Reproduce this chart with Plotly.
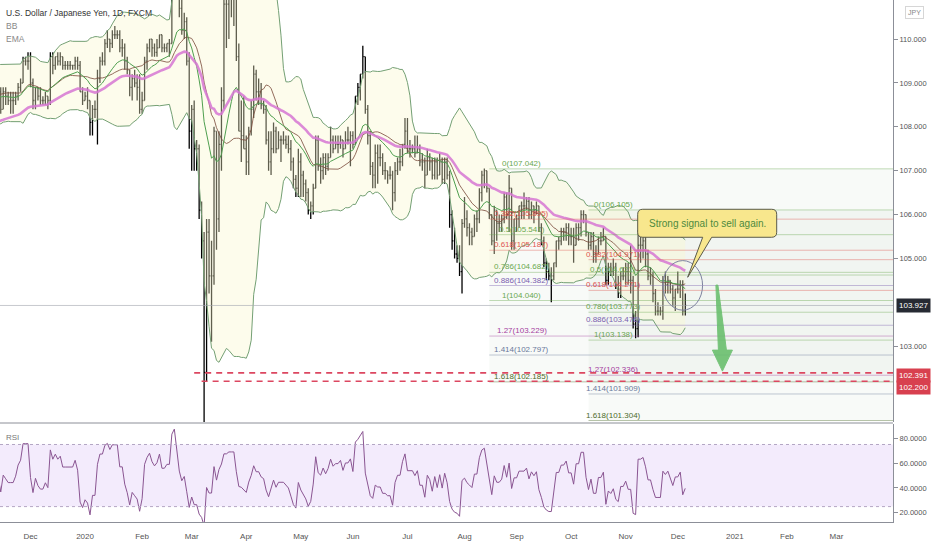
import pandas as pd
import numpy as np
import plotly.graph_objects as go

# ---------------- DATA: daily USD/JPY bars, (high, low, close) ----------------
sep_2019 = [(106.4,106.0,106.2),(106.3,105.7,105.9),(106.5,105.9,106.4),(107.0,106.3,106.9),(107.2,106.8,106.9),
            (107.3,106.8,107.2),(107.6,107.1,107.5),(107.9,107.4,107.8),(108.3,107.5,108.1),(108.2,107.9,108.1),
            (108.2,107.7,108.1),(108.3,108.0,108.1),(108.5,108.0,108.4),(108.5,107.8,107.9),(108.1,107.5,107.6),
            (107.8,107.3,107.5),(107.6,107.0,107.1),(107.9,107.0,107.8),(108.0,107.5,107.8),(108.0,107.6,107.9),
            (108.2,107.8,108.0)]
oct_2019 = [(108.5,107.7,107.8),(107.9,107.1,107.2),(107.3,106.5,106.9),(107.2,106.7,106.9),(107.4,106.8,107.3),
            (107.6,107.0,107.1),(107.6,107.0,107.5),(108.1,107.2,107.9),(108.6,107.8,108.3),(108.5,108.2,108.4),
            (108.9,108.3,108.8),(108.9,108.6,108.7),(108.9,108.5,108.6),(108.7,108.3,108.4),(108.7,108.4,108.6),
            (108.7,108.4,108.5),(108.7,108.3,108.7),(108.8,108.5,108.6),(108.8,108.5,108.7),(109.0,108.6,108.9),
            (109.0,108.7,108.9),(109.3,108.7,108.8),(108.9,107.9,108.0)]
nov_2019 = [(108.4,107.9,108.2),(108.7,108.2,108.6),(109.2,108.6,109.2),(109.3,108.9,109.0),(109.5,108.9,109.3),
            (109.5,109.1,109.3),(109.3,108.9,109.0),(109.3,108.9,109.0),(109.0,108.6,108.8),(108.9,108.3,108.4),
            (108.9,108.4,108.8),(108.9,108.5,108.7),(108.8,108.5,108.6),(108.8,108.3,108.6),(108.8,108.3,108.6),
            (108.8,108.5,108.7),(109.0,108.6,108.9),(109.1,108.8,109.0),(109.6,109.0,109.5),(109.6,109.4,109.5),
            (109.7,109.3,109.5)]
dec_2019 = [(109.7,108.9,109.0),(109.1,108.4,108.6),(108.9,108.4,108.9),(108.9,108.6,108.7),(108.9,108.5,108.6),
            (108.7,108.5,108.6),(108.8,108.5,108.7),(108.7,108.4,108.6),(109.7,108.5,109.6),(109.7,109.2,109.4),
            (109.6,109.3,109.6),(109.7,109.4,109.5),(109.7,109.4,109.6),(109.6,109.3,109.4),(109.5,109.3,109.4),
            (109.5,109.3,109.4),(109.5,109.3,109.4),(109.4,109.3,109.4),(109.6,109.3,109.5),(109.6,109.3,109.4),
            (109.5,108.8,108.8),(108.9,108.5,108.6)]
jan_2020 = [(108.8,108.6,108.7),(108.9,108.4,108.6),(108.6,107.8,108.1),(108.5,107.8,108.4),(108.6,108.2,108.4),
            (109.3,107.6,109.1),(109.6,109.0,109.5),(109.7,109.4,109.5),(110.0,109.4,109.9),(110.2,109.8,110.0),
            (110.0,109.7,109.9),(110.2,109.8,110.1),(110.3,110.0,110.1),(110.2,110.0,110.1),(110.2,109.7,109.8),
            (110.0,109.6,109.8),(109.9,109.3,109.5),(109.6,109.2,109.3),(109.3,108.7,108.9),(109.2,108.6,109.1),
            (109.3,108.9,109.0),(109.2,108.6,108.9),(109.2,108.3,108.4)]
feb_2020 = [(108.8,108.3,108.6),(109.6,108.6,109.5),(109.9,109.3,109.8),(110.0,109.7,110.0),(110.0,109.6,109.8),
            (109.9,109.6,109.7),(110.0,109.6,109.8),(110.1,109.8,110.1),(110.1,109.7,109.8),(109.9,109.7,109.8),
            (109.9,109.7,109.9),(110.0,109.6,109.9),(111.6,109.9,111.4),(112.2,111.2,112.1),(112.2,111.4,111.6),
            (111.6,110.5,110.7),(110.9,110.1,110.2),(110.6,110.0,110.4),(110.5,109.4,109.5),(109.7,107.5,107.9)]
mar_2020 = [(108.5,107.0,108.4),(108.6,107.0,107.5),(107.7,107.0,107.5),(107.6,105.9,106.1),(106.3,105.0,105.4),
            (105.6,101.2,102.4),(105.9,102.2,105.6),(105.9,104.2,104.6),(105.4,103.1,104.6),(108.0,104.4,107.9),
            (107.9,105.2,105.9),(107.9,105.6,107.6),(108.9,107.0,108.6),(110.9,108.4,110.8),(111.4,109.8,110.8),
            (111.5,110.0,111.2),(111.7,110.5,111.2),(111.7,110.3,111.2),(111.3,109.5,109.6),(109.9,107.9,107.9),
            (108.6,107.2,107.8),(108.7,107.5,107.5)]
apr_2020 = [(107.8,106.9,107.2),(108.0,106.9,107.9),(108.6,107.8,108.4),(109.4,108.2,109.2),(109.3,108.6,108.8),
            (109.1,108.5,108.8),(109.0,108.4,108.5),(108.6,108.3,108.4),(108.5,107.6,107.7),(107.9,107.0,107.2),
            (107.9,106.9,107.5),(108.1,107.4,107.9),(108.0,107.4,107.5),(107.9,107.5,107.7),(107.8,107.2,107.7),
            (107.9,107.6,107.7),(107.8,107.5,107.6),(107.8,107.4,107.5),(107.7,107.0,107.2),(107.3,106.6,106.8),
            (106.9,106.4,106.6),(107.5,106.4,107.2)]
may_2020 = [(107.4,106.4,106.9),(107.0,106.4,106.7),(106.8,106.3,106.5),(106.6,106.0,106.1),(106.3,105.9,106.2),
            (106.7,106.0,106.6),(107.8,106.6,107.7),(107.8,107.0,107.1),(107.3,106.7,107.0),(107.4,106.8,107.3),
            (107.4,106.9,107.1),(107.4,107.0,107.3),(108.0,107.3,107.7),(107.8,107.4,107.5),(107.8,107.5,107.6),
            (107.8,107.4,107.6),(107.8,107.5,107.7),(107.7,107.3,107.5),(107.9,107.5,107.7),(108.0,107.6,107.7),
            (107.9,107.1,107.8)]
jun_2020 = [(107.9,107.5,107.6),(108.7,107.6,108.7),(109.0,108.5,108.9),(109.2,108.6,109.2),(109.85,109.1,109.6),
            (109.4,108.3,108.4),(108.5,107.6,107.8),(107.9,106.9,107.1),(107.2,106.6,106.9),(107.6,106.6,107.4),
            (107.6,106.7,107.3),(107.6,107.1,107.3),(107.4,106.9,107.0),(107.2,106.8,107.0),(107.0,106.7,106.9),
            (107.1,106.8,106.9),(107.0,106.1,106.5),(107.2,106.3,107.0),(107.3,106.9,107.2),(107.5,107.0,107.2),
            (107.6,107.1,107.6),(108.2,107.5,107.9)]
jul_2020 = [(108.2,107.4,107.5),(107.7,107.3,107.5),(107.6,107.4,107.5),(107.8,107.3,107.4),(107.8,107.4,107.5),
            (107.6,107.1,107.2),(107.4,107.0,107.2),(107.3,106.6,106.9),(107.5,106.9,107.3),(107.4,107.0,107.2),
            (107.3,106.8,106.9),(107.3,106.8,107.2),(107.3,106.8,106.9),(107.4,106.9,107.2),(107.3,106.7,106.8),
            (107.3,106.7,107.2),(107.3,106.8,106.9),(107.0,105.7,106.0),(106.1,105.2,105.4),(105.7,105.0,105.1),
            (105.3,104.9,105.0),(105.3,104.6,104.7),(105.9,104.2,105.8)]
aug_2020 = [(106.4,105.7,105.9),(106.1,105.5,105.7),(105.8,105.3,105.6),(105.7,105.3,105.5),(106.0,105.5,105.9),
            (106.1,105.6,105.9),(106.6,105.8,106.5),(107.0,106.3,106.9),(107.05,106.6,107.0),(107.0,106.5,106.6),
            (106.6,105.9,106.0),(106.0,105.3,105.4),(106.2,105.1,106.1),(106.1,105.4,105.8),(106.0,105.6,105.8),
            (106.0,105.6,105.9),(106.5,105.8,106.4),(106.5,105.9,106.0),(106.9,105.6,106.6),(106.6,105.2,105.4),
            (105.9,105.2,105.9)]
sep_2020 = [(106.0,105.6,105.9),(106.2,105.7,106.2),(106.3,105.9,106.2),(106.5,105.9,106.2),(106.4,106.1,106.3),
            (106.4,105.9,106.0),(106.3,105.9,106.2),(106.2,105.8,106.1),(106.3,106.0,106.2),(106.2,105.6,105.7),
            (105.8,105.3,105.4),(105.5,104.8,104.9),(105.0,104.5,104.7),(104.9,104.5,104.6),(104.8,104.0,104.6),
            (104.9,104.5,104.9),(105.4,104.8,105.4),(105.5,105.2,105.4),(105.7,105.3,105.6),(105.7,105.4,105.6),
            (105.8,105.4,105.7),(105.8,105.3,105.5)]
oct_2020 = [(105.7,105.3,105.5),(105.7,104.9,105.3),(105.8,105.3,105.7),(105.8,105.4,105.7),(106.1,105.5,106.0),
            (106.1,105.8,106.0),(106.0,105.5,105.6),(105.6,105.2,105.3),(105.6,105.2,105.5),(105.6,104.9,105.1),
            (105.3,104.9,105.1),(105.5,105.1,105.4),(105.6,105.3,105.4),(105.7,105.4,105.5),(105.5,104.4,104.5),
            (104.9,104.4,104.8),(104.9,104.6,104.7),(105.0,104.6,104.8),(104.9,104.3,104.4),(104.6,104.1,104.3),
            (104.7,104.1,104.6),(104.8,104.5,104.6)]
nov_2020 = [(104.9,104.4,104.7),(104.9,104.4,104.5),(105.3,104.2,104.5),(104.6,103.4,103.5),(103.8,103.18,103.4),
            (105.65,103.2,105.3),(105.5,104.9,105.3),(105.5,105.0,105.4),(105.5,104.8,105.1),(105.2,104.5,104.6),
            (104.8,104.4,104.6),(104.7,104.0,104.2),(104.3,103.7,103.8),(104.0,103.7,103.8),(103.9,103.7,103.8),
            (104.6,103.6,104.5),(104.7,104.2,104.4),(104.6,104.2,104.5),(104.5,104.2,104.3),(104.4,103.9,104.1),
            (104.3,103.8,104.3)]
dec_2020 = [(104.7,104.2,104.3),(104.5,104.1,104.4),(104.5,103.7,103.8),(104.2,103.7,103.927)]

MONTHS = [("2019-09", sep_2019), ("2019-10", oct_2019), ("2019-11", nov_2019), ("2019-12", dec_2019),
          ("2020-01", jan_2020), ("2020-02", feb_2020), ("2020-03", mar_2020), ("2020-04", apr_2020),
          ("2020-05", may_2020), ("2020-06", jun_2020), ("2020-07", jul_2020), ("2020-08", aug_2020),
          ("2020-09", sep_2020), ("2020-10", oct_2020), ("2020-11", nov_2020), ("2020-12", dec_2020)]

TICK_DATES = ["2019-12-01", "2020-01-01", "2020-02-01", "2020-03-01", "2020-04-01", "2020-05-01",
              "2020-06-01", "2020-07-01", "2020-08-01", "2020-09-01", "2020-10-01", "2020-11-01",
              "2020-12-01", "2021-01-01", "2021-02-01", "2021-03-01"]
TICK_LABELS = ["Dec", "2020", "Feb", "Mar", "Apr", "May", "Jun", "Jul", "Aug", "Sep", "Oct", "Nov",
               "Dec", "2021", "Feb", "Mar"]

PRICE_TICKS = [103, 105, 106, 107, 108, 109, 110]
RSI_TICKS = [20, 40, 60, 80]
RSI_LENGTH = 7
LAST_PRICE = 103.927
SUPPORT_LEVELS = [102.391, 102.200]
SUPPORT_START = ["2020-03-03", "2020-03-06"]

FIB_RATIOS = [0, 0.382, 0.5, 0.618, 0.786, 0.886, 1, 1.27, 1.414, 1.618]
FIB_COLORS = ["#6aa84f", "#e0554f", "#6aa84f", "#e0554f", "#6aa84f", "#7b5fb0", "#6aa84f",
              "#a5409f", "#68789a", "#4d6b2a"]
FIB1_ANCHORS = ["2020-08-17", "2020-09-22"]
FIB1_PRICES = [107.042, 104.040]
FIB2_ANCHORS = ["2020-10-12", "2020-11-09"]
FIB2_PRICES = [106.105, 103.13751]

CALLOUT_TEXT = "Strong signal to sell again."
CALLOUT_TIP = ("2020-12-07", 104.57)
CIRCLE_BOX = ("2020-11-23", "2020-12-15", 103.82, 104.95)
ARROW_TIP = ("2020-12-25", 102.43)

# ---------------- build series ----------------
cal = pd.bdate_range("2019-09-02", "2021-03-31")
pos = {d: i for i, d in enumerate(cal)}

def idx(d):
    return int(cal.searchsorted(pd.Timestamp(d)))

xs, highs, lows, closes = [], [], [], []
for ym, rows in MONTHS:
    start = pd.Timestamp(ym + "-01")
    mdays = pd.bdate_range(start, start + pd.offsets.MonthEnd(0))
    for d, (h, l, c) in zip(mdays, rows):
        xs.append(pos[d]); highs.append(h); lows.append(l); closes.append(c)

close = pd.Series(closes, dtype=float)
opens = close.shift(1).fillna(close.iloc[0])
high = pd.Series(highs, dtype=float).combine(opens, max)
low = pd.Series(lows, dtype=float).combine(opens, min)

basis = close.rolling(20).mean()
dev = close.rolling(20).std(ddof=0)
upper = basis + 2 * dev
lower = basis - 2 * dev
ema50 = close.ewm(span=50, adjust=False).mean()
ema20 = close.ewm(span=20, adjust=False).mean()
delta = close.diff()
gain = delta.clip(lower=0).ewm(alpha=1 / RSI_LENGTH, adjust=False).mean()
loss = (-delta.clip(upper=0)).ewm(alpha=1 / RSI_LENGTH, adjust=False).mean()
rsi = 100 - 100 / (1 + gain / loss)

# ---------------- geometry ----------------
PX_PER_BAR = 2.48
n0 = idx("2019-12-02")
X_MIN = n0 - 30.5 / PX_PER_BAR
X_MAX = n0 + (893 - 30.5) / PX_PER_BAR
PLOT_H = 522
MAIN_BOTTOM = 1 - 422 / PLOT_H
RSI_TOP = (PLOT_H - 424) / PLOT_H

FONT = "Liberation Sans"
fig = go.Figure()

# Bollinger band fill + lines
fig.add_trace(go.Scatter(x=xs, y=upper, mode="lines", line=dict(color="#74a074", width=1),
                         hoverinfo="skip", showlegend=False))
fig.add_trace(go.Scatter(x=xs, y=lower, mode="lines", line=dict(color="#74a074", width=1),
                         fill="tonexty", fillcolor="rgba(250,248,205,0.38)", hoverinfo="skip", showlegend=False))
fig.add_trace(go.Scatter(x=xs, y=basis, mode="lines", line=dict(color="#7a4a3a", width=1),
                         opacity=0.8, hoverinfo="skip", showlegend=False))
fig.add_trace(go.Scatter(x=xs, y=ema20, mode="lines", line=dict(color="#4f9f4f", width=1),
                         hoverinfo="skip", showlegend=False))
fig.add_trace(go.Scatter(x=xs, y=ema50, mode="lines", line=dict(color="#d777d4", width=2.6),
                         opacity=0.85, hoverinfo="skip", showlegend=False))
fig.add_trace(go.Ohlc(x=xs, open=opens, high=high, low=low, close=close, tickwidth=0.4,
                      increasing=dict(line=dict(color="#000000", width=1.3)),
                      decreasing=dict(line=dict(color="#000000", width=1.3)),
                      hoverinfo="skip", showlegend=False))
fig.add_trace(go.Scatter(x=xs, y=rsi, mode="lines", line=dict(color="#8a5592", width=1),
                         xaxis="x", yaxis="y2", hoverinfo="skip", showlegend=False))

shapes = []
annotations = []

# fib drawings
def add_fib(anchors, prices):
    a, b = idx(anchors[0]), idx(anchors[1])
    p0, p1 = prices
    rng = p0 - p1
    levels = [p0 - r * rng for r in FIB_RATIOS]
    shapes.append(dict(type="rect", xref="x", yref="y", x0=a, x1=X_MAX, y0=levels[-1], y1=levels[0],
                       fillcolor="#8fae8f", opacity=0.06, line=dict(width=0), layer="below"))
    for r, lv, col in zip(FIB_RATIOS, levels, FIB_COLORS):
        shapes.append(dict(type="line", xref="x", yref="y", x0=a, x1=X_MAX, y0=lv, y1=lv,
                           line=dict(color=col, width=1), opacity=0.4))
        annotations.append(dict(x=(a + b) / 2, y=lv, xref="x", yref="y", yanchor="bottom", xanchor="center",
                                text=f"{r:g}({lv:.3f})", showarrow=False, yshift=-1,
                                font=dict(family=FONT, size=8, color=col)))

add_fib(FIB1_ANCHORS, FIB1_PRICES)
add_fib(FIB2_ANCHORS, FIB2_PRICES)

# last price line
shapes.append(dict(type="line", xref="paper", yref="y", x0=0, x1=1, y0=LAST_PRICE, y1=LAST_PRICE,
                   line=dict(color="#a4a7b0", width=1), opacity=0.6))
# support dashed lines
for lv, st in zip(SUPPORT_LEVELS, SUPPORT_START):
    shapes.append(dict(type="line", xref="x", yref="y", x0=idx(st), x1=X_MAX, y0=lv, y1=lv,
                       line=dict(color="#dc4760", width=1.6, dash="6px,5px")))

# circle
c0, c1, cy0, cy1 = CIRCLE_BOX
shapes.append(dict(type="circle", xref="x", yref="y", x0=idx(c0), x1=idx(c1), y0=cy0, y1=cy1,
                   line=dict(color="#7d82a0", width=1)))

# arrow (pixel geometry anchored at tip)
shapes.append(dict(type="path", xref="x", yref="y", xsizemode="pixel", ysizemode="pixel",
                   xanchor=idx(ARROW_TIP[0]), yanchor=ARROW_TIP[1],
                   path="M -6.5,86 L -4.5,86 L 4,21 L 10,21 L 0,0 L -10,21 L -4,21 Z",
                   fillcolor="#6abf6e", line=dict(color="#6abf6e", width=1), opacity=0.9))

# callout
shapes.append(dict(type="path", xref="x", yref="y", xsizemode="pixel", ysizemode="pixel",
                   xanchor=idx(CALLOUT_TIP[0]), yanchor=CALLOUT_TIP[1],
                   path=("M -45,40 L 15,40 L 0,0 L 24,40 L 84,40 Q 89,40 89,45 L 89,63 Q 89,68 84,68 "
                         "L -45,68 Q -50,68 -50,63 L -50,45 Q -50,40 -45,40 Z"),
                   fillcolor="#f8e78d", line=dict(color="#5a5a4a", width=1)))
annotations.append(dict(x=idx(CALLOUT_TIP[0]), y=CALLOUT_TIP[1], xref="x", yref="y", xshift=19.5, yshift=54,
                        text=CALLOUT_TEXT, showarrow=False, font=dict(family=FONT, size=10, color="#4e8a3e")))

# RSI band
shapes.append(dict(type="rect", xref="paper", yref="y2", x0=0, x1=1, y0=25, y1=75,
                   fillcolor="rgba(160,90,230,0.12)", line=dict(width=0), layer="below"))
for lv in (25, 75):
    shapes.append(dict(type="line", xref="paper", yref="y2", x0=0, x1=1, y0=lv, y1=lv,
                       line=dict(color="#b4a6c4", width=1, dash="dot")))
# pane separator
shapes.append(dict(type="line", xref="paper", yref="paper", x0=0, x1=1, y0=1 - 423 / PLOT_H, y1=1 - 423 / PLOT_H,
                   line=dict(color="#8c8f98", width=1)))

# legend texts
annotations += [
    dict(xref="paper", yref="paper", x=0, y=1, xshift=4, yshift=-6, xanchor="left", yanchor="top",
         text="U.S. Dollar / Japanese Yen, 1D, FXCM", showarrow=False,
         font=dict(family=FONT, size=8.5, color="#333333")),
    dict(xref="paper", yref="paper", x=0, y=1, xshift=4, yshift=-19, xanchor="left", yanchor="top",
         text="BB", showarrow=False, font=dict(family=FONT, size=8.5, color="#888888")),
    dict(xref="paper", yref="paper", x=0, y=1, xshift=4, yshift=-32, xanchor="left", yanchor="top",
         text="EMA", showarrow=False, font=dict(family=FONT, size=8.5, color="#888888")),
    dict(xref="paper", yref="paper", x=0, y=RSI_TOP, xshift=4, yshift=-7, xanchor="left", yanchor="top",
         text="RSI", showarrow=False, font=dict(family=FONT, size=8, color="#777777")),
    dict(xref="paper", yref="paper", x=1, y=1, xshift=21, yshift=-12, xanchor="center", yanchor="middle",
         text="JPY", showarrow=False, bgcolor="#ffffff", bordercolor="#d6d6d6", borderwidth=1, borderpad=2,
         font=dict(family=FONT, size=7, color="#888888")),
]
# price tags
annotations.append(dict(xref="paper", yref="y", x=1, y=LAST_PRICE, xshift=3, xanchor="left", yanchor="middle",
                        text=f"{LAST_PRICE:.3f}", showarrow=False, bgcolor="#262a33", borderpad=2,
                        font=dict(family=FONT, size=8, color="#ffffff")))
for lv, ys in zip(SUPPORT_LEVELS, (-3, -6)):
    annotations.append(dict(xref="paper", yref="y", x=1, y=lv, xshift=3, yshift=ys, xanchor="left",
                            yanchor="middle", text=f"{lv:.3f}", showarrow=False, bgcolor="#d8404f",
                            borderpad=2, font=dict(family=FONT, size=8, color="#ffffff")))

fig.update_layout(
    width=932, height=550, margin=dict(l=0, r=39, t=0, b=28),
    paper_bgcolor="#ffffff", plot_bgcolor="#ffffff", showlegend=False,
    shapes=shapes, annotations=annotations,
    xaxis=dict(range=[X_MIN, X_MAX], anchor="y2", showgrid=False, zeroline=False,
               tickvals=[idx(d) for d in TICK_DATES], ticktext=TICK_LABELS, ticks="",
               ticklabelstandoff=6,
               tickfont=dict(family=FONT, size=8, color="#555555"), showline=True, linecolor="#8c8f98",
               rangeslider=dict(visible=False), fixedrange=True),
    yaxis=dict(domain=[MAIN_BOTTOM, 1], range=[101.27, 110.892], side="right", showgrid=False,
               zeroline=False, tickvals=PRICE_TICKS, tickformat=".3f", ticks="outside", ticklen=4,
               tickcolor="#8c8f98", showline=True, linecolor="#8c8f98",
               tickfont=dict(family=FONT, size=7.5, color="#555555"), fixedrange=True),
    yaxis2=dict(domain=[0, RSI_TOP], range=[12.6, 91.5], side="right", anchor="x", showgrid=False,
                zeroline=False, tickvals=RSI_TICKS, tickformat=".4f", ticks="outside", ticklen=4,
                tickcolor="#8c8f98", showline=True, linecolor="#8c8f98",
                tickfont=dict(family=FONT, size=7.5, color="#555555"), fixedrange=True),
)

fig.write_html("out.html", config={"displayModeBar": False},
               post_script="document.body.style.margin='0px';")
